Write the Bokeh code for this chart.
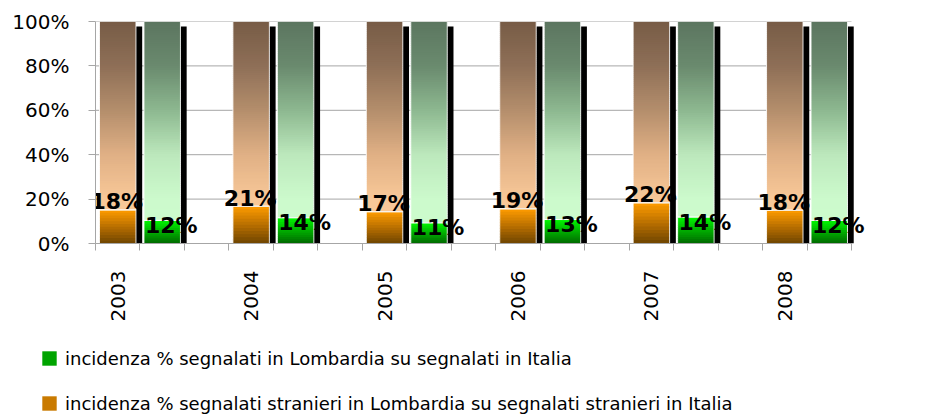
import math
import numpy as np
from bokeh.plotting import figure
from bokeh.models import (ColumnDataSource, FixedTicker, NumeralTickFormatter,
                          Legend, LegendItem, Range1d)
from bokeh.core.properties import value
from bokeh.embed import file_html
from bokeh.resources import INLINE

# ---------------- data ----------------
years = ["2003", "2004", "2005", "2006", "2007", "2008"]
# height of the lower (coloured) part of each 100% stacked column
stranieri_share = [0.151, 0.168, 0.143, 0.156, 0.183, 0.150]
segnalati_share = [0.104, 0.116, 0.093, 0.108, 0.119, 0.104]
# data labels printed on the chart
stranieri_labels = ["18%", "21%", "17%", "19%", "22%", "18%"]
segnalati_labels = ["12%", "14%", "11%", "13%", "14%", "12%"]
y_ticks = [0, 0.2, 0.4, 0.6, 0.8, 1.0]
legend_segnalati = "incidenza % segnalati in Lombardia su segnalati in Italia"
legend_stranieri = "incidenza % segnalati stranieri in Lombardia su segnalati stranieri in Italia"

# ---------------- layout helpers ----------------
n = len(years)
n_slots = 3 * n - 1
x_orange = [3 * i + 0.5 for i in range(n)]
x_green = [3 * i + 1.5 for i in range(n)]
BW = 0.82      # bar width (slot units)
DX = 0.14      # shadow offset (slot units)
SH_TOP = 0.977 # shadow top

FONT = "DejaVu Sans"
GRID = "#A6A6A6"
W = 940
PX_PER_SLOT = 756 / n_slots
FRAME_W = 787                       # a little room right of the axis for the last label
X_END = FRAME_W / PX_PER_SLOT


def hex2rgb(h):
    h = h.lstrip("#")
    return [int(h[i:i + 2], 16) for i in (0, 2, 4)]


def interp(stops, t):
    for (t0, c0), (t1, c1) in zip(stops[:-1], stops[1:]):
        if t <= t1:
            f = 0 if t1 == t0 else (t - t0) / (t1 - t0)
            f = min(max(f, 0), 1)
            a, b = hex2rgb(c0), hex2rgb(c1)
            return "#%02x%02x%02x" % tuple(int(round(a[k] + (b[k] - a[k]) * f)) for k in range(3))
    return stops[-1][1]


# colour stops (absolute y for upper parts, relative t for lower parts)
OR_LOW = [(0.0, "#6E4400"), (0.5, "#B86F00"), (1.0, "#FF9C00")]
GR_LOW = [(0.0, "#006800"), (0.5, "#00AE00"), (1.0, "#00F800")]
OR_UP = [(0.0, "#FBCB9C"), (0.2, "#F8C898"), (0.4, "#E0B085"), (0.6, "#B48E6C"),
         (0.8, "#8E6F57"), (1.0, "#775C46")]
GR_UP = [(0.0, "#CDFCCD"), (0.2, "#CCFACC"), (0.4, "#BCE8BC"), (0.6, "#8DB890"),
         (0.8, "#6A8A6E"), (1.0, "#5C7660")]

slices = dict(left=[], right=[], bottom=[], top=[], color=[])
outlines = dict(left=[], right=[], bottom=[], top=[])
shadows = dict(left=[], right=[], bottom=[], top=[])


def add_bar(xc, v, low_stops, up_stops):
    l, r = xc - BW / 2, xc + BW / 2
    shadows["left"].append(l + DX); shadows["right"].append(r + DX)
    shadows["bottom"].append(0); shadows["top"].append(SH_TOP)
    nlow = 12
    edges = np.linspace(0, v, nlow + 1)
    for k in range(nlow):
        t = (k + 0.5) / nlow
        slices["left"].append(l); slices["right"].append(r)
        slices["bottom"].append(edges[k]); slices["top"].append(min(edges[k + 1] + (v / nlow) * 0.5, v))
        slices["color"].append(interp(low_stops, t))
    nup = 90
    edges = np.linspace(v, 1.0, nup + 1)
    step = (1.0 - v) / nup
    for k in range(nup):
        ym = (edges[k] + edges[k + 1]) / 2
        slices["left"].append(l); slices["right"].append(r)
        slices["bottom"].append(edges[k]); slices["top"].append(min(edges[k + 1] + step * 0.5, 1.0))
        slices["color"].append(interp(up_stops, ym))
    for b, t in ((0, v), (v, 1.0)):
        outlines["left"].append(l); outlines["right"].append(r)
        outlines["bottom"].append(b); outlines["top"].append(t)


for i in range(n):
    add_bar(x_orange[i], stranieri_share[i], OR_LOW, OR_UP)
    add_bar(x_green[i], segnalati_share[i], GR_LOW, GR_UP)

p = figure(width=W, height=329, output_backend="svg", toolbar_location=None,
           x_range=Range1d(0, X_END), y_range=Range1d(0, 1),
           min_border_left=95, min_border_right=W - 95 - FRAME_W, min_border_top=21,
           min_border_bottom=329 - 21 - 222)
p.background_fill_color = "white"
p.border_fill_color = "white"
p.outline_line_color = None

# horizontal gridlines spanning only the category area
p.ygrid.visible = False
p.xgrid.visible = False
p.segment(x0=[0] * len(y_ticks), x1=[n_slots] * len(y_ticks), y0=y_ticks, y1=y_ticks,
          line_color=GRID, line_width=1, level="underlay")

p.quad(source=ColumnDataSource(shadows), left="left", right="right", bottom="bottom", top="top",
       fill_color="black", line_color=None)
p.quad(source=ColumnDataSource(slices), left="left", right="right", bottom="bottom", top="top",
       fill_color="color", line_color=None)
p.quad(source=ColumnDataSource(outlines), left="left", right="right", bottom="bottom", top="top",
       fill_color=None, line_color="white", line_alpha=0.85, line_width=1)

# data labels
src_or = ColumnDataSource(dict(x=x_orange, y=stranieri_share, t=stranieri_labels))
src_gr = ColumnDataSource(dict(x=x_green, y=segnalati_share, t=segnalati_labels))
p.text(x="x", y="y", text="t", source=src_or, text_align="center", text_baseline="alphabetic",
       x_offset=-1, y_offset=-8, text_font=value(FONT), text_font_style="bold",
       text_font_size="22px", text_color="black")
p.text(x="x", y="y", text="t", source=src_gr, text_align="center", text_baseline="alphabetic",
       x_offset=9, y_offset=5, text_font=value(FONT), text_font_style="bold",
       text_font_size="22px", text_color="black")

# axes
p.yaxis.ticker = FixedTicker(ticks=y_ticks)
p.yaxis.formatter = NumeralTickFormatter(format="0%")
p.yaxis.axis_line_color = GRID
p.yaxis.major_tick_line_color = GRID
p.yaxis.major_tick_out = 7
p.yaxis.major_tick_in = 0
p.yaxis.minor_tick_line_color = None
p.yaxis.major_label_standoff = 19
p.yaxis.major_label_text_font = FONT
p.yaxis.major_label_text_font_size = "20px"
p.yaxis.major_label_text_color = "black"

p.xaxis.ticker = FixedTicker(ticks=x_orange, minor_ticks=list(range(0, n_slots + 1)))
p.xaxis.bounds = (0, n_slots)
p.xaxis.major_label_overrides = {x: y for x, y in zip(x_orange, years)}
p.xaxis.major_label_orientation = math.pi / 2
p.xaxis.axis_line_color = GRID
p.xaxis.major_tick_out = 0
p.xaxis.major_tick_in = 0
p.xaxis.minor_tick_out = 7
p.xaxis.minor_tick_in = 0
p.xaxis.minor_tick_line_color = GRID
p.xaxis.major_label_standoff = 20
p.xaxis.major_label_text_font = FONT
p.xaxis.major_label_text_font_size = "20px"
p.xaxis.major_label_text_color = "black"

# legend figure below the chart (separate root, so its frame is not aligned)
LH = 86
q = figure(width=W, height=LH, output_backend="svg", toolbar_location=None,
           x_range=Range1d(0, 1), y_range=Range1d(0, 1),
           x_axis_location=None, y_axis_location=None, min_border=0)
q.grid.visible = False
q.outline_line_color = None
q.background_fill_color = "white"
q.border_fill_color = "white"
# off-range placeholder rows: only the legend swatches are visible
dummy = dict(left=[5], right=[6], bottom=[5], top=[6])
r_gr = q.quad(source=ColumnDataSource(dummy), left="left", right="right", bottom="bottom",
              top="top", fill_color="#00A400", line_color=None)
r_or = q.quad(source=ColumnDataSource(dummy), left="left", right="right", bottom="bottom",
              top="top", fill_color="#C97A00", line_color=None)
legend = Legend(items=[LegendItem(label=legend_segnalati, renderers=[r_gr]),
                       LegendItem(label=legend_stranieri, renderers=[r_or])],
                location=(40, 1), orientation="vertical",
                glyph_width=18, glyph_height=18, label_height=22, label_standoff=7,
                spacing=23, padding=0, margin=0,
                label_text_font=FONT, label_text_font_size="18px", label_text_color="black",
                border_line_color=None, background_fill_alpha=0)
q.add_layout(legend, "center")

open("out.html", "w").write(file_html([p, q], INLINE))
